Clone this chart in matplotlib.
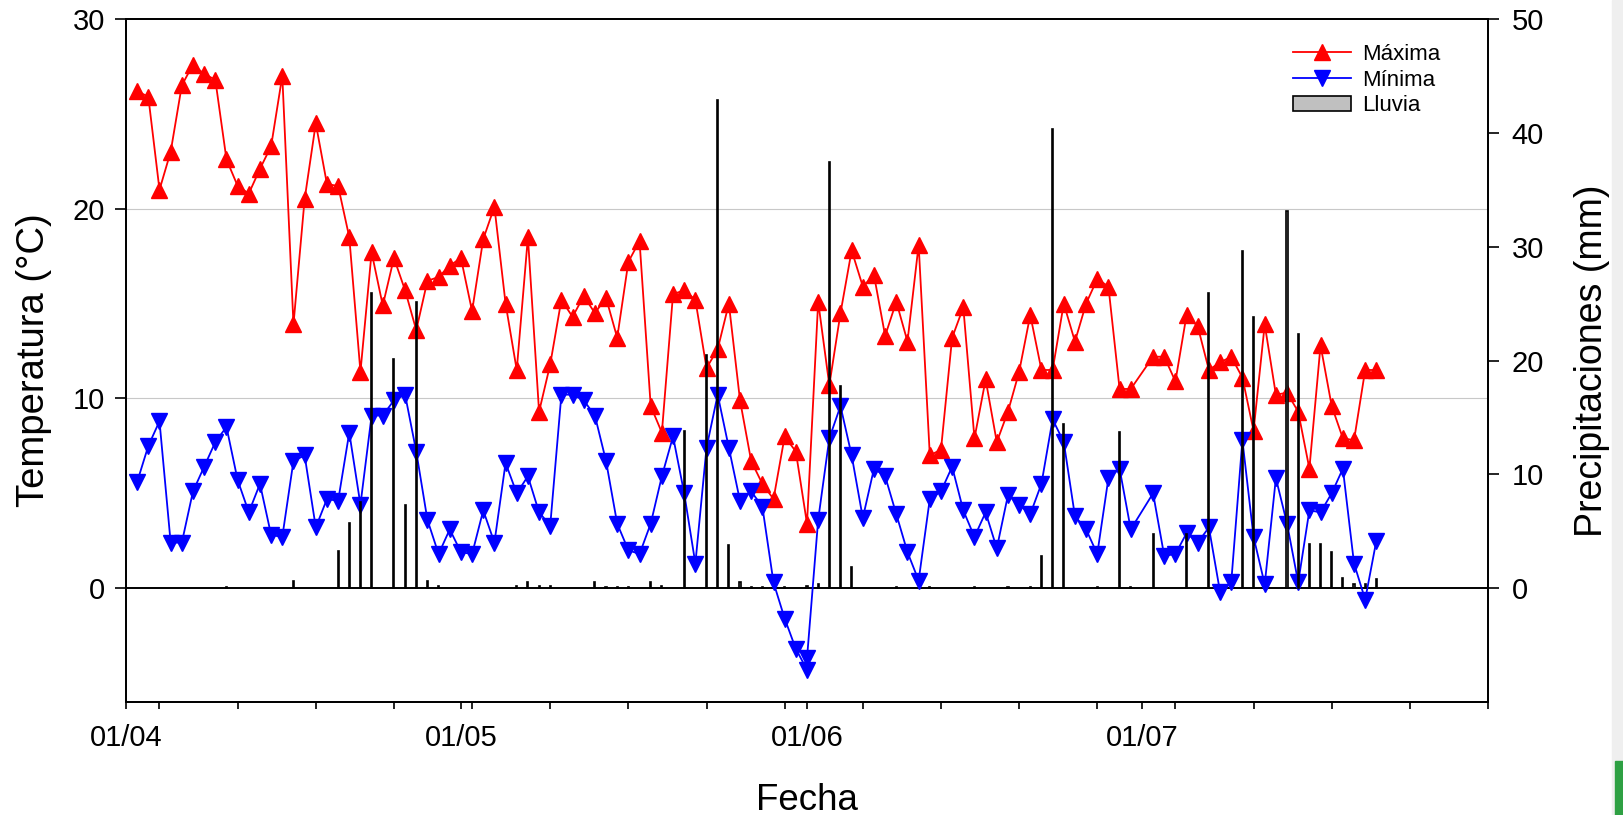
import matplotlib
matplotlib.use('Agg')
import matplotlib.pyplot as plt
import matplotlib.dates as mdates
import pandas as pd
from matplotlib.lines import Line2D
from matplotlib.patches import Patch, Rectangle

plt.rcParams['font.family'] = ['Liberation Sans', 'DejaVu Sans']

inicio = pd.Timestamp('2022-04-01')
fin = pd.Timestamp('2022-08-01')

# dias contados desde el 1 de abril (falta el 1/07)
dias_max = list(range(1, 91)) + list(range(92, 113))
t_max = [26.2, 25.9, 21.0, 23.0, 26.5, 27.6, 27.1, 26.8, 22.6, 21.2,
         20.8, 22.1, 23.3, 27.0, 13.9, 20.5, 24.5, 21.3, 21.2, 18.5,
         11.4, 17.7, 14.9, 17.4, 15.7, 13.6, 16.2, 16.4, 17.0, 17.4,
         14.6, 18.4, 20.1, 15.0, 11.5, 18.5, 9.3, 11.8, 15.2, 14.3,
         15.4, 14.5, 15.3, 13.2, 17.2, 18.3, 9.6, 8.2, 15.5, 15.7,
         15.2, 11.6, 12.6, 15.0, 9.9, 6.7, 5.5, 4.7, 8.0, 7.2,
         3.4, 15.1, 10.7, 14.5, 17.8, 15.9, 16.5, 13.3, 15.1, 13.0,
         18.1, 7.0, 7.3, 13.2, 14.8, 7.9, 11.0, 7.7, 9.3, 11.4,
         14.4, 11.5, 11.5, 15.0, 13.0, 15.0, 16.3, 15.9, 10.5, 10.5,
         12.2, 12.2, 10.9, 14.4, 13.8, 11.5, 11.9, 12.2, 11.1, 8.3,
         13.9, 10.2, 10.3, 9.3, 6.3, 12.8, 9.6, 7.9, 7.8, 11.5, 11.5]

# la minima tiene dos registros el 1/06
dias_min = list(range(1, 62)) + [61] + list(range(62, 91)) + list(range(92, 113))
t_min = [5.6, 7.5, 8.8, 2.4, 2.4, 5.1, 6.4, 7.7, 8.5, 5.7,
         4.0, 5.5, 2.8, 2.7, 6.7, 7.0, 3.2, 4.7, 4.6, 8.2,
         4.4, 9.1, 9.1, 9.9, 10.2, 7.2, 3.6, 1.8, 3.1, 1.9,
         1.8, 4.1, 2.4, 6.6, 5.0, 5.9, 4.0, 3.3, 10.2, 10.2,
         9.9, 9.1, 6.7, 3.4, 2.0, 1.8, 3.4, 5.9, 8.0, 5.0,
         1.3, 7.4, 10.2, 7.4, 4.6, 5.1, 4.3, 0.3, -1.6, -3.2,
         -4.3, -3.7,
         3.6, 7.9, 9.6, 7.0, 3.7, 6.3, 5.9, 3.9, 1.9, 0.4,
         4.7, 5.1, 6.4, 4.1, 2.7, 4.0, 2.1, 4.9, 4.4, 3.9,
         5.5, 8.9, 7.7, 3.8, 3.1, 1.8, 5.8, 6.3, 3.1,
         5.0, 1.7, 1.8, 2.9, 2.4, 3.2, -0.2, 0.3, 7.8, 2.7,
         0.2, 5.8, 3.4, 0.3, 4.1, 4.0, 5.0, 6.3, 1.3, -0.6, 2.5]

dias_lluvia = [9, 15, 19, 20, 21, 22, 24, 25, 26, 27, 28,
               35, 36, 37, 38, 42, 43, 44, 45, 47, 48, 50, 52, 53, 54, 55, 56, 57, 59,
               61, 62, 63, 64, 65, 69, 72, 76, 79, 81, 82, 83, 84, 87, 89, 90,
               92, 95, 97, 100, 101, 104, 105, 106, 107, 108, 109, 110, 111, 112]
lluvia = [0.1, 0.6, 3.3, 5.7, 7.6, 25.9, 20.1, 7.3, 25.1, 0.6, 0.2,
          0.2, 0.5, 0.2, 0.2, 0.5, 0.1, 0.1, 0.1, 0.5, 0.2, 13.8, 20.5, 42.9, 3.8, 0.5, 0.1, 0.1, 0.1,
          0.2, 0.4, 37.4, 17.8, 1.9, 0.1, 0.1, 0.1, 0.1, 0.1, 2.8, 40.3, 14.4, 0.1, 13.7, 0.1,
          4.8, 4.8, 25.9, 29.6, 23.8, 33.1, 22.3, 3.9, 3.9, 3.2, 0.9, 0.4, 0.4, 0.8]

f_max = inicio + pd.to_timedelta(dias_max, unit='D')
f_min = inicio + pd.to_timedelta(dias_min, unit='D')
f_lluvia = inicio + pd.to_timedelta(dias_lluvia, unit='D')

W, H = 1623, 815
fig = plt.figure(figsize=(W / 100, H / 100), dpi=100)
ax = fig.add_axes([126 / W, 1 - 702 / H, (1488 - 126) / W, (702 - 19) / H])
ax2 = ax.twinx()

# rejilla y linea de cero
ax.axhline(10, color='#c8c8c8', lw=0.8, zorder=0)
ax.axhline(20, color='#c8c8c8', lw=0.8, zorder=0)
ax.axhline(0, color='black', lw=1.4, zorder=1)

ax.plot(f_max, t_max, color='red', marker='^', ms=12, lw=1.3, zorder=3)
ax.plot(f_min, t_min, color='blue', marker='v', ms=12, lw=1.3, zorder=3)

ax2.bar(f_lluvia, lluvia, width=0.1, color='#c0c0c0', edgecolor='black', lw=1.2)

ax.set_xlim(inicio, fin)
ax.set_ylim(-6, 30)
ax2.set_ylim(-10, 50)
ax.set_yticks([0, 10, 20, 30])
ax2.set_yticks([0, 10, 20, 30, 40, 50])

ax.xaxis.set_major_locator(mdates.MonthLocator(bymonth=[4, 5, 6, 7]))
ax.xaxis.set_major_formatter(mdates.DateFormatter('%d/%m'))
ax.xaxis.set_minor_locator(mdates.WeekdayLocator(byweekday=mdates.MO))

ax.tick_params(axis='y', direction='out', length=8, width=1.2, labelsize=21, pad=7)
ax2.tick_params(axis='y', direction='out', length=8, width=1.2, labelsize=21, pad=9)
ax.tick_params(axis='x', which='both', direction='out', length=5, width=1.2, labelsize=21, pad=11)

for a in (ax, ax2):
    for s in a.spines.values():
        s.set_linewidth(1.3)

ax.set_xlabel('Fecha', fontsize=26.5)
ax.set_ylabel('Temperatura (°C)', fontsize=27.5)
ax2.set_ylabel('Precipitaciones (mm)', fontsize=27)
ax.xaxis.set_label_coords(0.5, -0.118)
ax.yaxis.set_label_coords(-0.054, 0.5)
ax2.yaxis.set_label_coords(1.063, 0.5)

handles = [
    Line2D([], [], color='red', marker='^', ms=12, lw=1.3),
    Line2D([], [], color='blue', marker='v', ms=12, lw=1.3),
    Patch(facecolor='#c0c0c0', edgecolor='black', lw=1.2),
]
ax2.legend(handles, ['Máxima', 'Mínima', 'Lluvia'], loc='upper right',
           bbox_to_anchor=(0.965, 0.963), frameon=False, fontsize=16,
           handlelength=2.6, handletextpad=0.5, labelspacing=0.2,
           borderpad=0, borderaxespad=0)

# bordes de la captura original
fig.patches.append(Rectangle((1612 / W, 0), 11 / W, 1, transform=fig.transFigure,
                             color='#efefef', zorder=-1))
fig.patches.append(Rectangle((1615 / W, 0), 8 / W, 54 / H, transform=fig.transFigure,
                             color='#2ea043', zorder=0))

fig.savefig('out.png', dpi=100)
